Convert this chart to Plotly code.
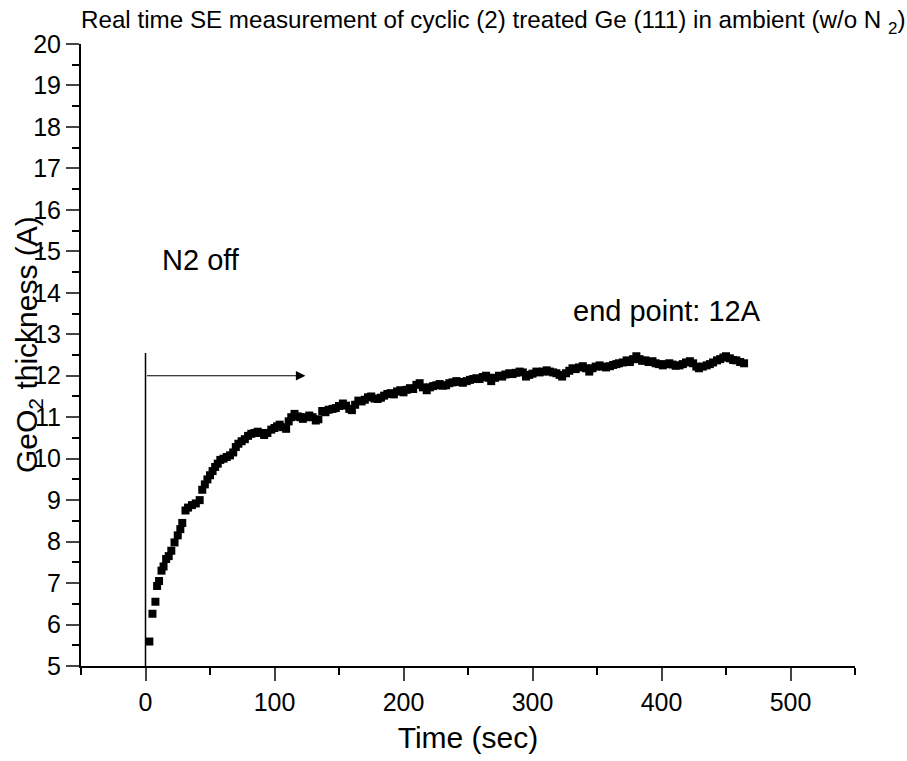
import plotly.graph_objects as go

time_sec = [3, 5.4, 7.7, 9, 10.5, 12.4, 14, 16, 18, 20, 22.5, 25, 27, 28.5, 31, 33, 36, 39, 42, 44,
            46, 48, 50, 52, 54, 56, 58, 60.5, 63, 65.5, 68, 70, 72, 74.5, 77, 79.5, 82, 84.5, 87, 89.5,
            92, 94.5, 97.5, 100, 102, 104, 106.5, 109, 111, 113, 115.5, 118, 120, 122, 124.5, 127, 129.5, 132, 134, 137,
            139.5, 142, 145, 147.5, 150, 153, 155.5, 158, 160, 162.5, 165, 167.5, 170, 172.5, 175, 177.5, 180, 182.5, 185, 187.5,
            190, 192.5, 195, 197.5, 200, 202.5, 205, 207.5, 210, 212.5, 215, 218, 220.5, 223, 225.5, 228, 230.5, 233, 235.5, 238,
            241, 243.5, 246, 249, 251.5, 254, 256.5, 259, 261.5, 264, 266, 268, 271, 274, 276.5, 279, 282, 284.5, 287, 290,
            292.5, 295, 297.5, 300, 303, 305.5, 308, 311, 313.5, 316, 318.5, 321, 323, 326, 328.5, 331, 333.5, 336, 339, 341.5,
            344, 346.5, 349, 352, 354.5, 357, 360, 362.5, 365, 367, 370, 373, 375.5, 378, 380.5, 383, 385, 387.5, 390, 393,
            395.5, 398, 401, 403.5, 406, 408.5, 411, 414, 416.5, 419, 422, 424.5, 427, 429, 432, 435, 437.5, 440, 443, 445.5,
            448, 450, 453, 455.5, 458, 461, 464]

thickness = [5.59, 6.26, 6.55, 6.93, 7.05, 7.30, 7.40, 7.58, 7.65, 7.78, 7.98, 8.15, 8.30, 8.45, 8.75, 8.82, 8.88, 8.92, 9.00, 9.25,
             9.38, 9.50, 9.60, 9.70, 9.80, 9.88, 9.97, 10.00, 10.04, 10.08, 10.15, 10.28, 10.36, 10.42, 10.47, 10.55, 10.60, 10.62, 10.65, 10.62,
             10.57, 10.62, 10.70, 10.74, 10.78, 10.82, 10.76, 10.72, 10.90, 11.00, 11.08, 11.02, 11.00, 10.96, 11.00, 11.04, 11.00, 10.92, 10.95, 11.15,
             11.12, 11.18, 11.20, 11.22, 11.27, 11.33, 11.28, 11.20, 11.17, 11.30, 11.40, 11.38, 11.42, 11.48, 11.50, 11.45, 11.44, 11.47, 11.52, 11.56,
             11.58, 11.55, 11.62, 11.65, 11.60, 11.66, 11.70, 11.68, 11.78, 11.82, 11.72, 11.65, 11.72, 11.75, 11.77, 11.80, 11.76, 11.77, 11.82, 11.84,
             11.87, 11.85, 11.83, 11.87, 11.90, 11.92, 11.94, 11.92, 11.97, 12.00, 11.95, 11.87, 11.95, 12.00, 11.98, 12.03, 12.06, 12.04, 12.07, 12.10,
             12.08, 11.98, 12.02, 12.05, 12.10, 12.08, 12.10, 12.13, 12.10, 12.08, 12.06, 12.02, 11.98, 12.06, 12.12, 12.18, 12.16, 12.20, 12.23, 12.18,
             12.10, 12.18, 12.22, 12.25, 12.22, 12.20, 12.23, 12.26, 12.28, 12.30, 12.32, 12.37, 12.33, 12.40, 12.47, 12.40, 12.36, 12.37, 12.33, 12.35,
             12.30, 12.28, 12.25, 12.28, 12.30, 12.27, 12.24, 12.25, 12.28, 12.32, 12.35, 12.30, 12.22, 12.18, 12.22, 12.25, 12.28, 12.32, 12.37, 12.40,
             12.44, 12.47, 12.42, 12.38, 12.37, 12.33, 12.30]

x_ticks = [0, 100, 200, 300, 400, 500]
y_ticks = list(range(5, 21))

FONT = "Liberation Sans"

fig = go.Figure()
fig.add_trace(go.Scatter(
    x=time_sec, y=thickness, mode="markers",
    marker=dict(symbol="square", size=8, color="black", line=dict(width=0)),
    showlegend=False,
))

# N2 off marker line and arrow
fig.add_shape(type="line", x0=0, x1=0, y0=5, y1=12.55, xref="x", yref="y",
              line=dict(color="black", width=1.5))
fig.add_annotation(x=124, y=12, ax=0, ay=12, xref="x", yref="y", axref="x", ayref="y",
                   text="", showarrow=True, arrowhead=2, arrowsize=1.6, arrowwidth=1.2,
                   arrowcolor="black", standoff=0, startstandoff=0)
fig.add_annotation(x=11.5, y=14.8, xref="x", yref="y", text="N2 off", showarrow=False,
                   xanchor="left", yanchor="middle", font=dict(family=FONT, size=29, color="black"))
fig.add_annotation(x=329.5, y=13.55, xref="x", yref="y", text="end point: 12A", showarrow=False,
                   xanchor="left", yanchor="middle", font=dict(family=FONT, size=29, color="black"))

# y axis title (overlapping tick labels as in the original)
fig.add_annotation(x=0, y=0.5, xref="paper", yref="paper", xshift=-53, yshift=10,
                   text="GeO<sub>2</sub> thickness (A)", textangle=-90, showarrow=False,
                   xanchor="center", yanchor="middle", font=dict(family=FONT, size=30, color="black"))

fig.update_layout(
    width=907, height=761,
    margin=dict(l=81, r=52, t=44, b=92),
    paper_bgcolor="white", plot_bgcolor="white",
    font=dict(family=FONT, color="black"),
    title=dict(text="Real time SE measurement of cyclic (2) treated Ge (111) in ambient (w/o N <sub>2</sub>)",
               x=81/907, xanchor="left", xref="container", y=1-20/761, yanchor="middle", yref="container",
               font=dict(family=FONT, size=24.2, color="black")),
    xaxis=dict(range=[-50, 550], tickvals=x_ticks, ticks="outside", ticklen=13, tickwidth=2,
               showline=True, linewidth=2, linecolor="black", showgrid=False, zeroline=False,
               tickfont=dict(family=FONT, size=25, color="black"),
               minor=dict(ticks="outside", ticklen=7, tickwidth=2, dtick=50, tick0=-50, tickcolor="black", showgrid=False),
               title=dict(text="Time (sec)", font=dict(family=FONT, size=30, color="black"), standoff=12)),
    yaxis=dict(range=[5, 20], tickvals=y_ticks, ticks="outside", ticklen=13, tickwidth=2,
               showline=True, linewidth=2, linecolor="black", showgrid=False, zeroline=False,
               tickfont=dict(family=FONT, size=25, color="black"),
               minor=dict(ticks="outside", ticklen=7, tickwidth=2, dtick=0.5, tick0=5, tickcolor="black", showgrid=False)),
)

fig.write_html("out.html")
